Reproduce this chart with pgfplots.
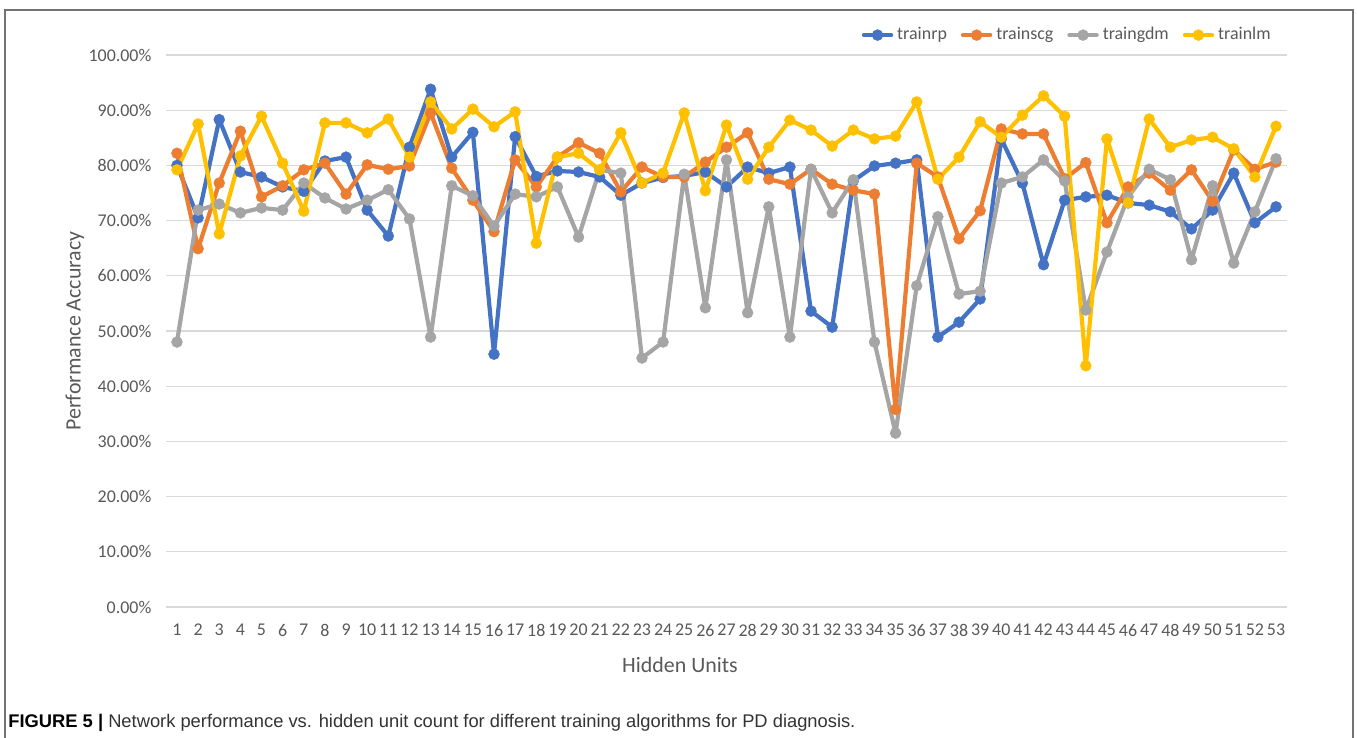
\documentclass[border=0pt]{standalone}
\usepackage{fontspec}
\setmainfont{Carlito}
\newfontfamily\capfont{Liberation Sans}
\usepackage{pgfplots}
\usepackage{pgfplotstable}
\pgfplotsset{compat=1.18}
\definecolor{cblue}{HTML}{4472C4}
\definecolor{corange}{HTML}{ED7D31}
\definecolor{cgray}{HTML}{A5A5A5}
\definecolor{cyellow}{HTML}{FFC000}
\definecolor{ctext}{HTML}{595959}
\definecolor{cgrid}{HTML}{D9D9D9}
\pgfplotstableread{
x rp scg gdm lm
1 80.0 82.2 48.0 79.2
2 70.5 64.9 71.9 87.5
3 88.3 76.8 73.0 67.6
4 78.8 86.2 71.4 81.7
5 77.9 74.3 72.3 88.9
6 76.1 76.3 71.9 80.4
7 75.3 79.2 76.8 71.7
8 80.8 80.4 74.1 87.7
9 81.5 74.8 72.1 87.7
10 71.9 80.1 73.7 85.9
11 67.2 79.3 75.6 88.4
12 83.3 79.9 70.3 81.5
13 93.8 89.5 48.9 91.5
14 81.5 79.5 76.3 86.6
15 86.0 73.7 74.5 90.2
16 45.8 68.0 69.0 87.0
17 85.2 81.0 74.8 89.7
18 78.0 76.1 74.3 65.9
19 79.0 81.5 76.1 81.5
20 78.8 84.1 67.0 82.2
21 77.9 82.2 79.2 79.2
22 74.6 75.2 78.6 85.9
23 76.8 79.7 45.1 76.8
24 77.8 77.9 48.0 78.6
25 78.1 77.9 78.4 89.5
26 78.8 80.6 54.2 75.4
27 76.1 83.3 81.0 87.3
28 79.7 85.9 53.3 77.5
29 78.6 77.5 72.5 83.3
30 79.7 76.6 48.9 88.2
31 53.6 79.3 79.3 86.4
32 50.7 76.6 71.4 83.5
33 77.2 75.5 77.4 86.4
34 79.9 74.8 48.0 84.8
35 80.4 35.8 31.5 85.3
36 81.0 80.4 58.2 91.5
37 48.9 77.9 70.7 77.5
38 51.6 66.7 56.7 81.5
39 55.8 71.8 57.2 87.9
40 84.8 86.6 76.8 85.1
41 76.8 85.7 77.9 89.1
42 62.0 85.7 81.0 92.6
43 73.7 77.6 77.2 88.9
44 74.3 80.5 53.8 43.7
45 74.6 69.6 64.3 84.8
46 73.2 76.1 74.3 73.2
47 72.8 78.6 79.3 88.4
48 71.6 75.5 77.4 83.3
49 68.5 79.2 62.9 84.6
50 71.9 73.5 76.3 85.1
51 78.6 82.8 62.3 83.0
52 69.6 79.3 71.6 77.9
53 72.5 80.6 81.2 87.1
}\datatable
\begin{document}
\begin{tikzpicture}
\useasboundingbox (0,0) rectangle (678.5bp,369bp);
\draw[color=black!55, line width=1.2bp] (2.5bp,-2bp) -- (2.5bp,364bp) -- (676.5bp,364bp) -- (676.5bp,-2bp);
\begin{axis}[
  at={(83.2bp,65.5bp)}, anchor=south west,
  scale only axis, width=560.1bp, height=276bp,
  xmin=0.5, xmax=53.5, ymin=0, ymax=100,
  xtick={1,...,53}, ytick={0,10,...,100},
  axis x line*=bottom, axis y line*=left,
  x axis line style={draw=cgrid, line width=0.8bp},
  y axis line style={draw=none},
  major tick length=0pt,
  ymajorgrids, grid style={draw=cgrid, line width=0.6bp},
  yticklabel={\pgfmathprintnumber[assume math mode=true,fixed,fixed zerofill,precision=2]{\tick}\%},
  xticklabel={\pgfmathprintnumber[assume math mode=true]{\tick}},
  ticklabel style={font=\fontsize{9}{10}\selectfont, text=ctext},
  yticklabel style={xshift=-4bp},
  xticklabel style={yshift=-5bp},
  ylabel={Performance Accuracy}, xlabel={Hidden Units},
  label style={font=\fontsize{11}{13}\selectfont, text=ctext},
  ylabel style={at={(axis description cs:-0.0816,0.5)}, anchor=center},
  xlabel style={at={(axis description cs:0.4585,-0.105)}, anchor=center},
  legend columns=4,
  legend style={at={(0.995,1.036)}, anchor=east, draw=none, fill=none,
    font=\fontsize{9}{10}\selectfont, text=ctext,
    /tikz/every odd column/.append style={column sep=0bp},
    /tikz/every even column/.append style={column sep=5bp}},
  legend image code/.code={\draw[mark repeat=2,mark phase=2] plot coordinates {(0cm,0cm)(0.24cm,0cm)(0.48cm,0cm)};},
  every axis plot/.append style={line width=2.1bp, line join=round, line cap=round, mark=*, mark size=2.75bp},
  clip=false,
]
\addplot[color=cblue, mark options={fill=cblue, draw=cblue, line width=0.2bp}] table[x=x,y=rp]{\datatable};
\addlegendentry{trainrp}
\addplot[color=corange, mark options={fill=corange, draw=corange, line width=0.2bp}] table[x=x,y=scg]{\datatable};
\addlegendentry{trainscg}
\addplot[color=cgray, mark options={fill=cgray, draw=cgray, line width=0.2bp}] table[x=x,y=gdm]{\datatable};
\addlegendentry{traingdm}
\addplot[color=cyellow, mark options={fill=cyellow, draw=cyellow, line width=0.2bp}] table[x=x,y=lm]{\datatable};
\addlegendentry{trainlm}
\end{axis}
\node[anchor=west, inner sep=0pt, font=\capfont\fontsize{9.2}{11}\selectfont] at (4bp,7.5bp) {\textbf{FIGURE 5 |} \textcolor{black!80}{Network performance vs. hidden unit count for different training algorithms for PD diagnosis.}};
\end{tikzpicture}
\end{document}
